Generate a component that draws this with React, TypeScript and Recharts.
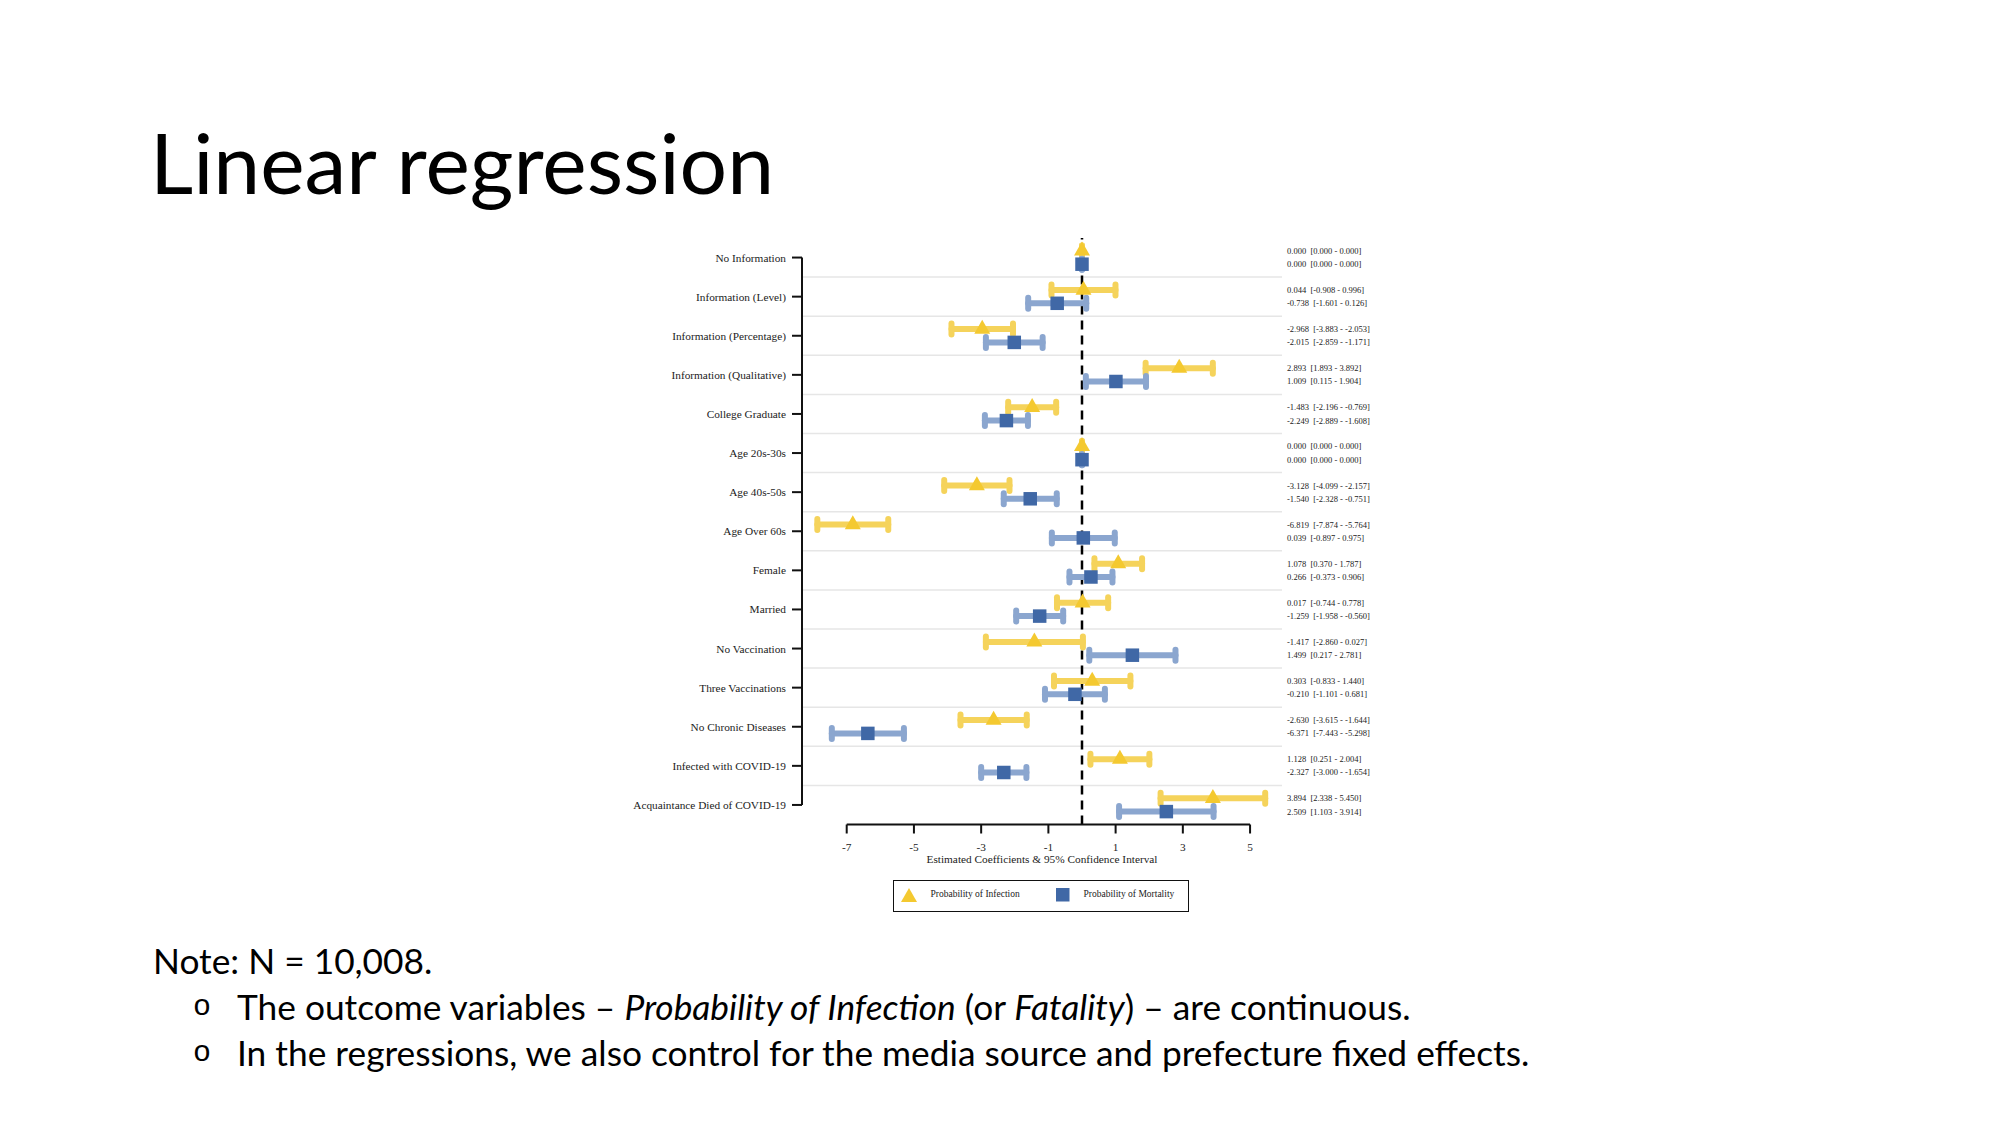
import React from "react";
import { ScatterChart, Scatter, XAxis, YAxis, ErrorBar, ReferenceLine, Legend } from "recharts";

const categories = [
  "No Information",
  "Information (Level)",
  "Information (Percentage)",
  "Information (Qualitative)",
  "College Graduate",
  "Age 20s-30s",
  "Age 40s-50s",
  "Age Over 60s",
  "Female",
  "Married",
  "No Vaccination",
  "Three Vaccinations",
  "No Chronic Diseases",
  "Infected with COVID-19",
  "Acquaintance Died of COVID-19",
];

const infectionCoef = [0.0, 0.044, -2.968, 2.893, -1.483, 0.0, -3.128, -6.819, 1.078, 0.017, -1.417, 0.303, -2.63, 1.128, 3.894];
const infectionLow = [0.0, -0.908, -3.883, 1.893, -2.196, 0.0, -4.099, -7.874, 0.37, -0.744, -2.86, -0.833, -3.615, 0.251, 2.338];
const infectionHigh = [0.0, 0.996, -2.053, 3.892, -0.769, 0.0, -2.157, -5.764, 1.787, 0.778, 0.027, 1.44, -1.644, 2.004, 5.45];

const mortalityCoef = [0.0, -0.738, -2.015, 1.009, -2.249, 0.0, -1.54, 0.039, 0.266, -1.259, 1.499, -0.21, -6.371, -2.327, 2.509];
const mortalityLow = [0.0, -1.601, -2.859, 0.115, -2.889, 0.0, -2.328, -0.897, -0.373, -1.958, 0.217, -1.101, -7.443, -3.0, 1.103];
const mortalityHigh = [0.0, 0.126, -1.171, 1.904, -1.608, 0.0, -0.751, 0.975, 0.906, -0.56, 2.781, 0.681, -5.298, -1.654, 3.914];

const xTicks = [-7, -5, -3, -1, 1, 3, 5];

const X_MIN = -8.33;
const X_MAX = 5.95;
const DODGE = 0.17;
const SERIF = "'Liberation Serif', 'Times New Roman', serif";
const SANS = "Lato, 'Open Sans', sans-serif";

const YELLOW = "#F4C930";
const YELLOW_CI = "#F5D35B";
const BLUE = "#4068A6";
const BLUE_CI = "#8BA6CF";

const buildRows = (coef: number[], low: number[], high: number[], shift: number) =>
  categories.map((name, i) => ({
    name,
    pos: i + shift,
    coef: coef[i],
    err: [coef[i] - low[i], high[i] - coef[i]],
  }));

const infectionRows = buildRows(infectionCoef, infectionLow, infectionHigh, -DODGE);
const mortalityRows = buildRows(mortalityCoef, mortalityLow, mortalityHigh, DODGE);
// anchor rows so the right-hand stats axis is bound to a series
const statRows = categories.map((name, i) => ({ name, pos: i, coef: 0 }));

const yTicks = categories.map((_, i) => i);
const separators = categories.slice(1).map((_, i) => i + 0.5);

const fmt = (v: number) => v.toFixed(3);
const statLine = (c: number, lo: number, hi: number) => `${fmt(c)}  [${fmt(lo)} - ${fmt(hi)}]`;

function TriangleShape(props: any) {
  const { cx, cy } = props;
  const w = 16;
  const h = 14;
  return (
    <polygon
      points={`${cx},${cy - (2 * h) / 3} ${cx - w / 2},${cy + h / 3} ${cx + w / 2},${cy + h / 3}`}
      fill={YELLOW}
    />
  );
}

function SquareShape(props: any) {
  const { cx, cy } = props;
  const s = 13.5;
  return <rect x={cx - s / 2} y={cy - s / 2} width={s} height={s} fill={BLUE} />;
}

function EmptyShape() {
  return <g />;
}

function CategoryTick(props: any) {
  const { x, y, payload } = props;
  return (
    <text
      x={x}
      y={y}
      textAnchor="end"
      dominantBaseline="central"
      fontFamily={SERIF}
      fontSize={11.3}
      fill="#222"
    >
      {categories[payload.value]}
    </text>
  );
}

function StatsTick(props: any) {
  const { x, y, payload } = props;
  const i = payload.value;
  const style = { whiteSpace: "pre" as const };
  return (
    <g fontFamily={SERIF} fontSize={8.5} fill="#222">
      <text x={x} y={y - 6.6} dominantBaseline="central" style={style}>
        {statLine(infectionCoef[i], infectionLow[i], infectionHigh[i])}
      </text>
      <text x={x} y={y + 6.6} dominantBaseline="central" style={style}>
        {statLine(mortalityCoef[i], mortalityLow[i], mortalityHigh[i])}
      </text>
    </g>
  );
}

function LegendBox(props: any) {
  const names = (props.payload || []).map((p: any) => p.value);
  return (
    <div style={{ paddingTop: 13, height: 33 }}>
      <div
        style={{
          position: "relative",
          marginLeft: 293,
          width: 296,
          height: 32,
          boxSizing: "border-box",
          border: "1.5px solid #111",
          fontFamily: SERIF,
          fontSize: 9.5,
          color: "#222",
        }}
      >
        <svg width={16} height={14} style={{ position: "absolute", left: 6.5, top: 7 }}>
          <polygon points="8,0 0,14 16,14" fill={YELLOW} />
        </svg>
        <span style={{ position: "absolute", left: 36.5, top: 8 }}>{names[0]}</span>
        <svg width={14} height={14} style={{ position: "absolute", left: 161.5, top: 7.5 }}>
          <rect x={0} y={0} width={13.5} height={13.5} fill={BLUE} />
        </svg>
        <span style={{ position: "absolute", left: 189.5, top: 8 }}>{names[1]}</span>
      </div>
    </div>
  );
}

function ForestChart() {
  return (
    <ScatterChart width={800} height={712.5} margin={{ top: 38, right: 0, bottom: 0, left: 0 }}>
      <XAxis
        type="number"
        dataKey="coef"
        domain={[X_MIN, X_MAX]}
        ticks={xTicks}
        interval={0}
        axisLine={false}
        tickSize={9}
        tickMargin={9}
        height={42}
        stroke="#111"
        strokeWidth={2}
        tick={{ fontSize: 11.3, fontFamily: SERIF, fill: "#222" }}
        label={{
          value: "Estimated Coefficients & 95% Confidence Interval",
          position: "insideBottom",
          offset: 3.5,
          fontSize: 11.3,
          fontFamily: SERIF,
          fill: "#222",
        }}
      />
      <YAxis
        yAxisId="left"
        type="number"
        dataKey="pos"
        domain={[-0.5, categories.length - 0.5]}
        ticks={yTicks}
        interval={0}
        reversed
        width={202}
        axisLine={false}
        tickSize={10}
        tickMargin={6}
        stroke="#111"
        strokeWidth={2}
        tick={<CategoryTick />}
      />
      <YAxis
        yAxisId="right"
        orientation="right"
        type="number"
        dataKey="pos"
        domain={[-0.5, categories.length - 0.5]}
        ticks={yTicks}
        interval={0}
        reversed
        width={118}
        axisLine={false}
        tickLine={false}
        tickSize={0}
        tickMargin={5}
        tick={<StatsTick />}
      />
      {separators.map((s) => (
        <ReferenceLine key={s} yAxisId="left" y={s} stroke="#e6e6e6" strokeWidth={1.5} />
      ))}
      <ReferenceLine yAxisId="left" x={0} stroke="#000" strokeWidth={2.5} strokeDasharray="9 6" />
      <ReferenceLine
        yAxisId="left"
        segment={[{ x: X_MIN, y: 0 }, { x: X_MIN, y: categories.length - 1 }]}
        stroke="#111"
        strokeWidth={2}
      />
      <ReferenceLine
        yAxisId="left"
        segment={[{ x: xTicks[0], y: categories.length - 0.5 }, { x: xTicks[xTicks.length - 1], y: categories.length - 0.5 }]}
        stroke="#111"
        strokeWidth={2}
      />
      <Scatter
        yAxisId="right"
        data={statRows}
        shape={<EmptyShape />}
        legendType="none"
        isAnimationActive={false}
      />
      <Scatter
        yAxisId="left"
        name="Probability of Infection"
        data={infectionRows}
        shape={<TriangleShape />}
        fill={YELLOW}
        isAnimationActive={false}
      >
        <ErrorBar
          dataKey="err"
          direction="x"
          width={5.5}
          stroke={YELLOW_CI}
          strokeWidth={6}
          strokeLinecap="round"
          isAnimationActive={false}
        />
      </Scatter>
      <Scatter
        yAxisId="left"
        name="Probability of Mortality"
        data={mortalityRows}
        shape={<SquareShape />}
        fill={BLUE}
        isAnimationActive={false}
      >
        <ErrorBar
          dataKey="err"
          direction="x"
          width={5.5}
          stroke={BLUE_CI}
          strokeWidth={6}
          strokeLinecap="round"
          isAnimationActive={false}
        />
      </Scatter>
      <Legend verticalAlign="bottom" content={<LegendBox />} />
    </ScatterChart>
  );
}

export default function App() {
  return (
    <div
      style={{
        position: "absolute",
        left: 0,
        top: 0,
        width: 2000,
        height: 1125,
        background: "#fff",
        overflow: "hidden",
        color: "#000",
      }}
    >
      <div
        style={{
          position: "absolute",
          left: 150,
          top: 120,
          fontFamily: SANS,
          fontWeight: 400,
          fontSize: 84,
          lineHeight: 1,
          whiteSpace: "nowrap",
        }}
      >
        Linear regression
      </div>
      <div style={{ position: "absolute", left: 600, top: 200 }}>
        <ForestChart />
      </div>
      <div
        style={{
          position: "absolute",
          left: 153,
          top: 938,
          fontFamily: SANS,
          fontSize: 35.3,
          lineHeight: "46px",
          whiteSpace: "nowrap",
        }}
      >
        <div>Note: N = 10,008.</div>
        <div style={{ position: "relative", paddingLeft: 84 }}>
          <span style={{ position: "absolute", left: 40, fontFamily: "'Liberation Mono', monospace", fontSize: 30 }}>o</span>
          The outcome variables – <i>Probability of Infection</i> (or <i>Fatality</i>) – are continuous.
        </div>
        <div style={{ position: "relative", paddingLeft: 84 }}>
          <span style={{ position: "absolute", left: 40, fontFamily: "'Liberation Mono', monospace", fontSize: 30 }}>o</span>
          In the regressions, we also control for the media source and prefecture fixed effects.
        </div>
      </div>
    </div>
  );
}
